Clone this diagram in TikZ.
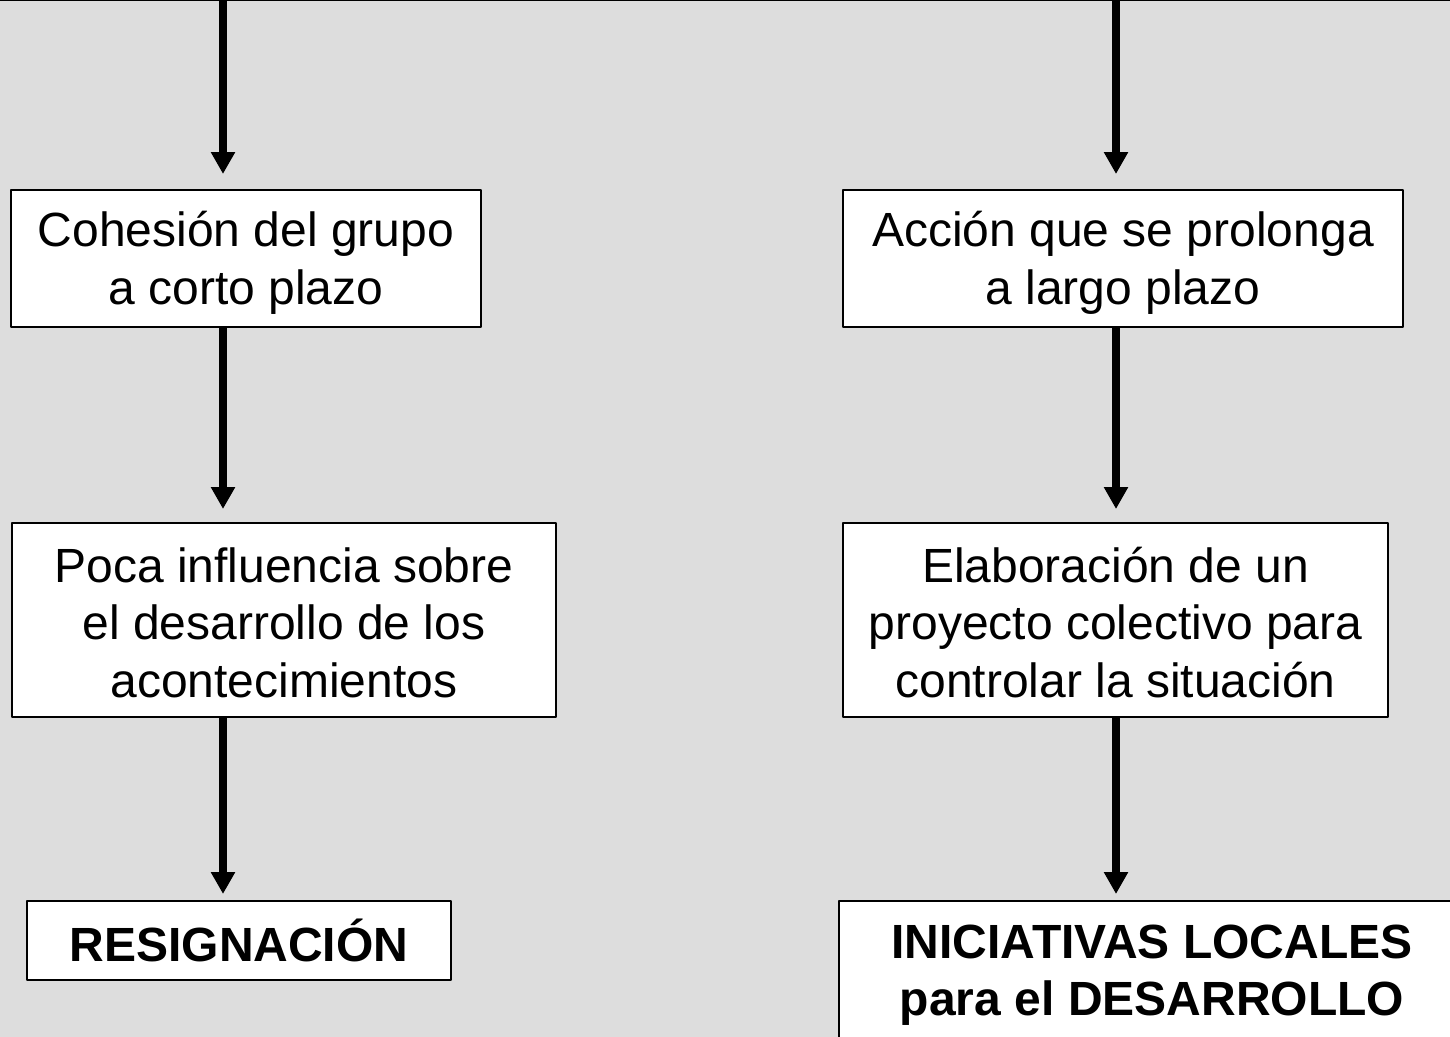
\documentclass[tikz,border=0pt]{standalone}
\usepackage{fontspec}
\setmainfont{Liberation Sans}
\usetikzlibrary{arrows.meta}
\definecolor{bggray}{HTML}{DDDDDD}
\newcommand{\topgap}[1]{\rule{0pt}{#1}}
\begin{document}
\begin{tikzpicture}[>={Triangle[width=23bp,length=22bp]},line join=bevel,
  box/.style={draw=black,line width=2bp,fill=white,inner sep=0pt,align=center,
    font=\fontsize{48bp}{57.5bp}\selectfont},
  link/.style={black,line width=8bp,->}]
%%
\useasboundingbox (0bp,0bp) rectangle (1450bp,-1037bp);
\clip (0bp,0bp) rectangle (1450bp,-1037bp);
\fill [bggray] (0bp,0bp) rectangle (1450bp,-1037bp);
\draw [black,line width=2bp] (0bp,0bp) -- (1450bp,0bp);
%
\coordinate (top_l) at (223bp,0bp);
\coordinate (top_r) at (1116bp,0bp);
\node (node_0) at (246.0bp,-258.5bp) [box,minimum width=470bp,minimum height=137bp] {\topgap{44bp}Cohesión del grupo\\a corto plazo};
  \node (node_1) at (284.0bp,-620.0bp) [box,minimum width=544bp,minimum height=194bp] {\topgap{40bp}Poca influencia sobre\\el desarrollo de los\\acontecimientos};
  \node (node_2) at (239.0bp,-940.5bp) [box,minimum width=424bp,minimum height=79bp] {\bfseries RESIGNACIÓN};
  \node (node_3) at (1123.0bp,-258.5bp) [box,minimum width=560bp,minimum height=137bp] {\topgap{44bp}Acción que se prolonga\\a largo plazo};
  \node (node_4) at (1115.5bp,-620.0bp) [box,minimum width=545bp,minimum height=194bp] {\topgap{40bp}Elaboración de un\\proyecto colectivo para\\controlar la situación};
  \node (node_5) at (1152.0bp,-971.0bp) [box,minimum width=626bp,minimum height=140bp] {\topgap{42bp}\bfseries INICIATIVAS LOCALES\\\bfseries para el DESARROLLO};
  \draw [link,shorten >=15bp] (top_l) -- (node_0.north -| top_l);
  \draw [link,shorten >=13bp] (node_0.south -| top_l) -- (node_1.north -| top_l);
  \draw [link,shorten >=6bp] (node_1.south -| top_l) -- (node_2.north -| top_l);
  \draw [link,shorten >=15bp] (top_r) -- (node_3.north -| top_r);
  \draw [link,shorten >=13bp] (node_3.south -| top_r) -- (node_4.north -| top_r);
  \draw [link,shorten >=6bp] (node_4.south -| top_r) -- (node_5.north -| top_r);
%
\end{tikzpicture}
\end{document}
